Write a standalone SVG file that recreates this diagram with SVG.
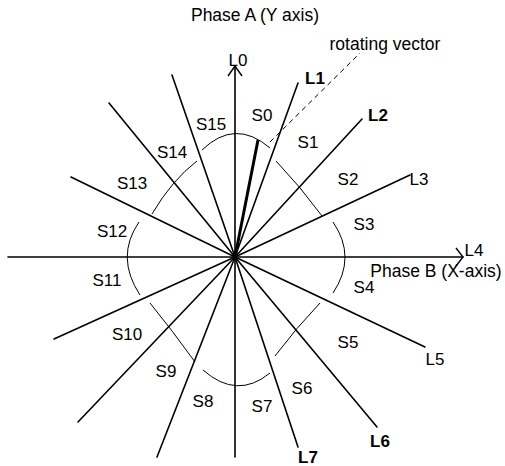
<svg xmlns="http://www.w3.org/2000/svg" width="505" height="466" viewBox="0 0 505 466">
<style>
.ray{stroke:#000;stroke-width:1.6;fill:none;stroke-linecap:round}
.arc{stroke:#000;stroke-width:1;fill:none}
.arr{stroke:#000;stroke-width:1.4;fill:none}
.vec{stroke:#000;stroke-width:3;fill:none}
.dash{stroke:#000;stroke-width:1;fill:none;stroke-dasharray:5,4}
text{font-family:"Liberation Sans",Arial,sans-serif;font-size:17px;fill:#000;text-anchor:middle}
.t{font-size:17.5px}
.b{font-weight:bold}
</style>
<rect width="505" height="466" fill="#fff"/>
<g id="connectors">
<line class="ray" x1="235" y1="257" x2="235" y2="66"/>
<line class="ray" x1="235" y1="257" x2="298" y2="83"/>
<line class="ray" x1="235" y1="257" x2="362" y2="119"/>
<line class="ray" x1="235" y1="257" x2="410" y2="175"/>
<line class="ray" x1="235" y1="257" x2="463" y2="257"/>
<line class="ray" x1="235" y1="257" x2="425" y2="347"/>
<line class="ray" x1="235" y1="257" x2="377" y2="427"/>
<line class="ray" x1="235" y1="257" x2="298" y2="447"/>
<line class="ray" x1="235" y1="257" x2="235" y2="457"/>
<line class="ray" x1="235" y1="257" x2="157" y2="457"/>
<line class="ray" x1="235" y1="257" x2="78" y2="422"/>
<line class="ray" x1="235" y1="257" x2="54" y2="339"/>
<line class="ray" x1="235" y1="257" x2="8" y2="257"/>
<line class="ray" x1="235" y1="257" x2="71" y2="177"/>
<line class="ray" x1="235" y1="257" x2="109" y2="103"/>
<line class="ray" x1="235" y1="257" x2="172" y2="75"/>
<polyline class="arr" points="228,76 235,66 242,76"/>
<polyline class="arr" points="456,248 463,257 456,266"/>
<line class="vec" x1="235" y1="257" x2="258" y2="140"/>
<line class="dash" x1="270" y1="142" x2="360" y2="53"/>
<path class="arc" d="M202,150 Q235,118 270,148"/>
<path class="arc" d="M276,161 Q300,186 322,216"/>
<path class="arc" d="M333,222 Q357,257 333,293"/>
<path class="arc" d="M320,303 Q296,328 275,356"/>
<path class="arc" d="M270,373 Q237,400 203,370"/>
<path class="arc" d="M195,362 Q172,330 150,303"/>
<path class="arc" d="M140,295 Q115,257 139,222"/>
<path class="arc" d="M152,214 Q172,180 197,161"/>
</g>
<g id="titles">
<text class="t" x="255" y="21">Phase A (Y axis)</text>
<text class="t" x="436" y="277">Phase B (X-axis)</text>
<text class="t" x="385" y="50">rotating vector</text>
</g>
<g id="L-labels">
<text x="238" y="66">L0</text>
<text class="b" x="315" y="84">L1</text>
<text class="b" x="378" y="121">L2</text>
<text x="419" y="185">L3</text>
<text x="474" y="256">L4</text>
<text x="435" y="365">L5</text>
<text class="b" x="380" y="447">L6</text>
<text class="b" x="308" y="463">L7</text>
</g>
<g id="S-labels">
<text x="262" y="121">S0</text>
<text x="308" y="148">S1</text>
<text x="348" y="185">S2</text>
<text x="364" y="230">S3</text>
<text x="364" y="293">S4</text>
<text x="348" y="348">S5</text>
<text x="302" y="394">S6</text>
<text x="262" y="412">S7</text>
<text x="203" y="407">S8</text>
<text x="166" y="377">S9</text>
<text x="127" y="340">S10</text>
<text x="107" y="286">S11</text>
<text x="112" y="237">S12</text>
<text x="132" y="189">S13</text>
<text x="172" y="158">S14</text>
<text x="211" y="130">S15</text>
</g>
</svg>
